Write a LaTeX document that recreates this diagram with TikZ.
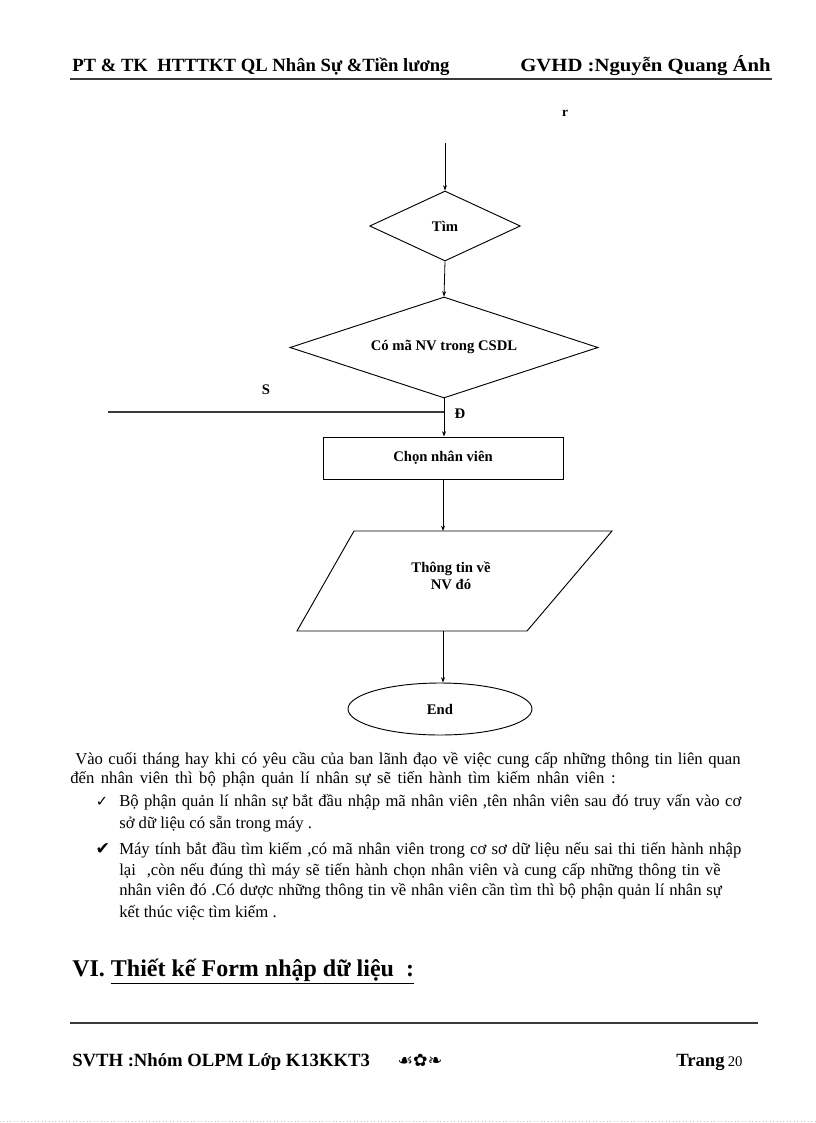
\documentclass[tikz,border=0pt]{standalone}
\usepackage{fontspec}
\setmainfont{Liberation Serif}
\newfontfamily\symfont{DejaVu Sans}
\usetikzlibrary{
  arrows.meta,
  shapes.geometric,
  positioning,
  calc
}
\definecolor{lnGrey}{HTML}{3A3A3A}
\tikzset{
  flow/.style={draw=black, line width=0.7pt, inner sep=0pt},
  arr/.style={-{Stealth[length=4pt,width=3pt]}, line width=0.6pt},
  lbl/.style={font=\bfseries\fontsize{11}{13}\selectfont},
  body/.style={anchor=base west, inner sep=0pt, font=\fontsize{12.5}{14}\selectfont},
  hdr/.style={anchor=base west, inner sep=0pt, font=\bfseries\fontsize{14}{16}\selectfont}
}
\newcommand{\fitline}[2]{\makebox[#1][s]{#2}}

\begin{document}
\begin{tikzpicture}[x=0.75pt,y=-0.75pt]
  \useasboundingbox (0,0) rectangle (816,1123);
  % header
  \node[hdr] (hdleft) at (72,72) {PT \& TK\ \ HTTTKT QL Nhân Sự \&Tiền lương};
  \node[hdr, anchor=base east] (hdright) at (771,72) {\scalebox{1.11}[1]{GVHD :Nguyễn Quang Ánh}};
  \draw[line width=2pt, lnGrey] (70,79) -- (772,79);
  \node[font=\bfseries\fontsize{10}{11}\selectfont] (mark) at (565,113) {r};
  % flowchart
  \node[flow, diamond, aspect=2.15, minimum width=113pt, minimum height=52.5pt, lbl] (tim) at (445,226) {Tìm};
  \node[flow, diamond, aspect=3.05, minimum width=231pt, minimum height=75.75pt, lbl] (codl) at (444,347.5) {Có mã NV trong CSDL};
  \node[flow, rectangle, minimum width=180pt, minimum height=31.5pt, lbl] (chon) at (443,458) {Chọn nhân viên};
  \draw[flow] (354,531) -- (612,531) -- (527,631) -- (297,631) -- cycle;
  \node[lbl, align=center] (ttin) at (451,576) {Thông tin về\\NV đó};
  \coordinate (tttop) at (443,531);
  \coordinate (ttbot) at (443,631);
  \node[flow, ellipse, minimum width=138pt, minimum height=39pt, lbl] (endn) at (440,709) {End};
  % connectors
  \coordinate (start) at (445,143);
  \coordinate (sleft) at (108,412);
  \draw[arr] (start) -- (tim.north);
  \draw[arr] (tim.south) -- (codl.north);
  \draw[arr] (codl.south) -- (codl.south |- chon.north);
  \draw[line width=1pt, lnGrey] (sleft) -- (sleft -| codl.south);
  \node[lbl] (slbl) at (266,390) {S};
  \node[lbl] (dlbl) at (460,414) {Đ};
  \draw[arr] (chon.south) -- (tttop);
  \draw[arr] (ttbot) -- (ttbot |- endn.north);
  % description
  \node[body] (p1) at (75,764) {\fitline{499pt}{Vào cuối tháng hay khi có yêu cầu của ban lãnh đạo về việc cung cấp những thông tin liên quan}};
  \node[body] (p2) at (70,783) {\fitline{409pt}{đến nhân viên thì bộ phận quản lí nhân sự sẽ tiến hành tìm kiếm nhân viên :}};
  \node[anchor=base, inner sep=0pt, font=\symfont\fontsize{11}{12}\selectfont] (ck1) at (102,806) {✓};
  \node[body] (b1a) at (119,806) {\fitline{466.5pt}{Bộ phận quản lí nhân sự bắt đầu nhập mã nhân viên ,tên nhân viên sau đó truy vấn vào cơ}};
  \node[body] (b1b) at (119,828) {sở dữ liệu có sẵn trong máy .};
  \node[anchor=base, inner sep=0pt, font=\symfont\fontsize{13}{14}\selectfont] (ck2) at (103,854) {✔};
  \node[body] (b2a) at (119,854) {\fitline{466.5pt}{Máy tính bắt đầu tìm kiếm ,có mã nhân viên trong cơ sơ dữ liệu nếu sai thi tiến hành nhập}};
  \node[body] (b2b) at (119,875) {\fitline{451pt}{lại\ \ ,còn nếu đúng thì máy sẽ tiến hành chọn nhân viên và cung cấp những thông tin về}};
  \node[body] (b2c) at (119,895) {\fitline{452pt}{nhân viên đó .Có dược những thông tin về nhân viên cần tìm thì bộ phận quản lí nhân sự}};
  \node[body] (b2d) at (119,917) {kết thúc việc tìm kiếm .};
  % section heading
  \node[anchor=base west, inner sep=0pt, font=\bfseries\fontsize{18}{22}\selectfont] (sec) at (72,976) {VI. \underline{Thiết kế Form nhập dữ liệu\ \ :}};
  % footer
  \draw[line width=2pt, lnGrey] (70,1023) -- (758,1023);
  \node[hdr] (ftleft) at (72,1066) {SVTH :Nhóm OLPM Lớp K13KKT3};
  \node[anchor=base, inner sep=0pt, font=\symfont\fontsize{13}{15}\selectfont] (orn) at (420,1066) {☙✿❧};
  \node[hdr] (page) at (676,1066) {Trang\,{\mdseries\fontsize{11}{13}\selectfont 20}};
  \draw[gray!50, dotted, line width=0.6pt] (0,1121) -- (816,1121);
\end{tikzpicture}
\end{document}
